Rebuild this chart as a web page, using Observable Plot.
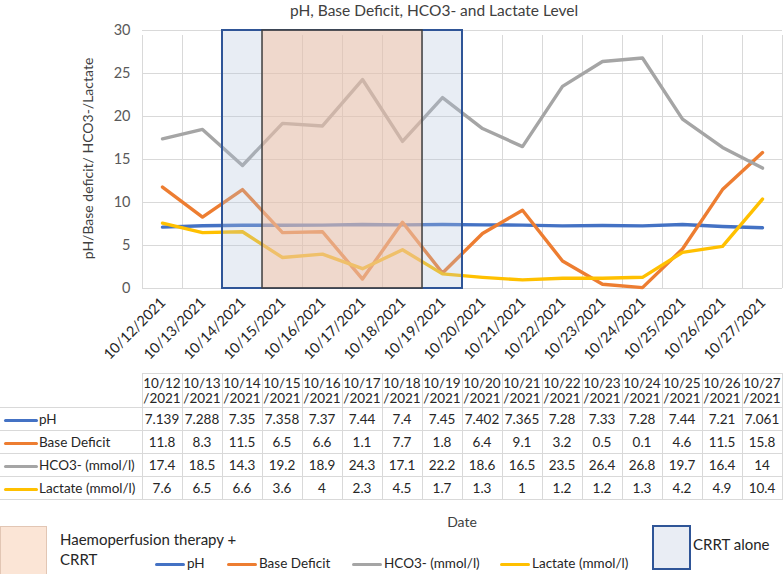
<!DOCTYPE html>
<html><head><meta charset="utf-8">
<script src="https://cdn.jsdelivr.net/npm/d3@7"></script>
<script src="https://cdn.jsdelivr.net/npm/@observablehq/plot@0.6"></script>
<style>
body{margin:0;background:#fff;font-family:Lato,"Open Sans",sans-serif;color:#404040}
#wrap{position:relative;width:784px;height:574px;overflow:hidden}
.abs{position:absolute;white-space:nowrap}
table{border-collapse:collapse;table-layout:fixed;position:absolute;left:0;top:373px}
td{border:1px solid #d9d9d9;padding:0;text-align:center;font-size:13.5px;color:#262626;overflow:hidden;white-space:nowrap}
td.lab{text-align:left;border-left:none}
.sw{display:inline-block;width:34px;height:3.5px;border-radius:2px;vertical-align:middle;margin:0 1px 0 4px}
</style></head>
<body><div id="wrap"></div>
<script>
// ---- data ----
const dates = ["10/12/2021","10/13/2021","10/14/2021","10/15/2021","10/16/2021","10/17/2021","10/18/2021","10/19/2021","10/20/2021","10/21/2021","10/22/2021","10/23/2021","10/24/2021","10/25/2021","10/26/2021","10/27/2021"];
const pH          = [7.139,7.288,7.35,7.358,7.37,7.44,7.4,7.45,7.402,7.365,7.28,7.33,7.28,7.44,7.21,7.061];
const baseDeficit = [11.8,8.3,11.5,6.5,6.6,1.1,7.7,1.8,6.4,9.1,3.2,0.5,0.1,4.6,11.5,15.8];
const hco3        = [17.4,18.5,14.3,19.2,18.9,24.3,17.1,22.2,18.6,16.5,23.5,26.4,26.8,19.7,16.4,14];
const lactate     = [7.6,6.5,6.6,3.6,4,2.3,4.5,1.7,1.3,1,1.2,1.2,1.3,4.2,4.9,10.4];
const seriesNames = ["pH","Base Deficit","HCO3- (mmol/l)","Lactate (mmol/l)"];
const seriesColors = ["#4472C4","#ED7D31","#A5A5A5","#FFC000"];
const yTicks = [0,5,10,15,20,25,30];
const crrtPeriod = ["10/14/2021","10/19/2021"];
const haemoPeriod = ["10/15/2021","10/18/2021"];
const title = "pH, Base Deficit, HCO3- and Lactate Level";
const yLabel = "pH/Base deficit/ HCO3-/Lactate";
const xLabel = "Date";

const seriesValues = [pH, baseDeficit, hco3, lactate];
const rows = seriesNames.flatMap((name,k)=>seriesValues[k].map((v,i)=>({i, value:v, series:name})));
const idx = dates.map((d,i)=>i);
const bounds = d3.range(dates.length+1).map(i=>i-0.5);
const period = p => [{x1: dates.indexOf(p[0])-0.5, x2: dates.indexOf(p[1])+0.5}];

const wrap = document.getElementById("wrap");

const t = document.createElement("div");
t.className="abs"; t.style.cssText="left:0;top:0;width:868px;text-align:center;font-size:15.5px;color:#404040;line-height:20px";
t.textContent = title; wrap.appendChild(t);

const chart = Plot.plot({
  width:784, height:345, marginLeft:142, marginRight:2, marginTop:10, marginBottom:77,
  style:{fontFamily:"Lato, sans-serif", fontSize:"14.5px", color:"#595959", background:"transparent", overflow:"visible"},
  x:{type:"linear", domain:[-0.5, dates.length-0.5], axis:null},
  y:{domain:[0,30], ticks:yTicks, tickSize:0, tickPadding:12, label:null},
  color:{domain:seriesNames, range:seriesColors},
  marks:[
    Plot.ruleY(yTicks, {stroke:"#d9d9d9", strokeWidth:1}),
    Plot.ruleX(bounds, {y1:0, y2:30, stroke:"#d9d9d9", strokeWidth:1, insetBottom:-5}),
    Plot.line(rows, {x:"i", y:"value", z:"series", stroke:"series", strokeWidth:3.4, strokeLinejoin:"round", strokeLinecap:"round"}),
    Plot.rect(period(crrtPeriod), {x1:"x1", x2:"x2", y1:0, y2:30, fill:"#b4c3dc", fillOpacity:0.3, stroke:"#2F5597", strokeWidth:2}),
    Plot.rect(period(haemoPeriod), {x1:"x1", x2:"x2", y1:0, y2:30, fill:"#f8be9b", fillOpacity:0.45, stroke:"#404040", strokeWidth:1.5}),
    Plot.text(idx, {x:d=>d, text:d=>dates[d], frameAnchor:"bottom", rotate:-45, textAnchor:"end", dx:4, dy:15, fill:"#262626", fontSize:14.5}),
    Plot.text([yLabel], {text:d=>d, frameAnchor:"left", rotate:-90, textAnchor:"middle", dx:-54, dy:-1, fill:"#404040", fontSize:14})
  ]
});
chart.style.position="absolute"; chart.style.left="0"; chart.style.top="20px";
wrap.appendChild(chart);

// table
const tbl = document.createElement("table");
let html = '<colgroup><col style="width:142px">' + dates.map(()=>'<col style="width:40px">').join("") + '</colgroup>';
html += '<tr style="height:34px"><td style="border:none;border-bottom:1px solid #d9d9d9"></td>' +
  dates.map(d=>{const p=d.lastIndexOf("/"); return `<td style="line-height:15px">${d.slice(0,p)}<br>${d.slice(p)}</td>`;}).join("") + '</tr>';
seriesNames.forEach((name,k)=>{
  html += `<tr style="height:23px"><td class="lab"><span class="sw" style="background:${seriesColors[k]}"></span>${name}</td>` +
    seriesValues[k].map(v=>`<td>${v}</td>`).join("") + '</tr>';
});
tbl.innerHTML = html; wrap.appendChild(tbl);

// legend
function add(css, txt){const d=document.createElement("div"); d.className="abs"; d.style.cssText=css; if(txt!=null) d.innerHTML=txt; wrap.appendChild(d); return d;}
add("left:412px;width:100px;top:513px;text-align:center;font-size:14px;color:#404040", xLabel);
add("left:0;top:526px;width:45px;height:47px;background:#fbe5d6;border:1px solid #e2c6b4", null);
add("left:60px;top:529px;font-size:15px;line-height:20px;color:#262626", "Haemoperfusion therapy +<br>CRRT");
add("left:652px;top:525px;width:35px;height:41px;background:#e9edf4;border:2px solid #2F5597", null);
add("left:693px;top:535px;font-size:15px;color:#262626", "CRRT alone");
const legX = [155,227,352,500];
seriesNames.forEach((name,k)=>{
  add(`left:${legX[k]}px;top:554px;font-size:13.5px;color:#262626;line-height:18px`,
      `<span style="display:inline-block;width:30px;height:3.5px;border-radius:2px;vertical-align:middle;background:${seriesColors[k]};margin-right:2px"></span>${name}`);
});
</script>
</body></html>
